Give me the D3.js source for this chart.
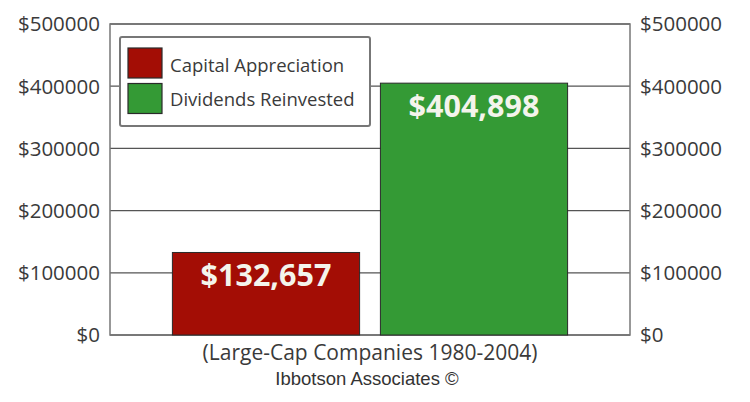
<!DOCTYPE html>
<html>
<head>
<meta charset="utf-8">
<script src="https://cdn.jsdelivr.net/npm/d3@7"></script>
<style>
  html, body { margin: 0; padding: 0; background: #fff; }
  svg { display: block; }
</style>
</head>
<body>
<div id="chart"></div>
<script>
const categories = ["Capital Appreciation", "Dividends Reinvested"];
const values = [132657, 404898];
const valueLabels = ["$132,657", "$404,898"];
const tickValues = [0, 100000, 200000, 300000, 400000, 500000];
const tickLabels = ["$0", "$100000", "$200000", "$300000", "$400000", "$500000"];
const colors = ["#a30d05", "#349a35"];
const subtitle = "(Large-Cap Companies 1980-2004)";
const credit = "Ibbotson Associates \u00A9";

const W = 750, H = 402;
const margin = { top: 24, right: 120, bottom: 67, left: 110 };
const svg = d3.select("#chart").append("svg").attr("width", W).attr("height", H);

const x = d3.scaleBand().domain(categories).range([margin.left, W - margin.right])
  .paddingInner(0.1).paddingOuter(0.3);
const y = d3.scaleLinear().domain([0, 500000]).range([H - margin.bottom, margin.top]);

const font = "'Open Sans', sans-serif";
const textColor = "#3a3a3a";

// gridlines
svg.append("g").selectAll("line").data(tickValues).join("line")
  .attr("x1", margin.left).attr("x2", W - margin.right)
  .attr("y1", d => y(d)).attr("y2", d => y(d))
  .attr("stroke", "#555").attr("stroke-width", 1.3);

// plot border
svg.append("rect")
  .attr("x", margin.left).attr("y", margin.top)
  .attr("width", W - margin.right - margin.left).attr("height", y(0) - margin.top)
  .attr("fill", "none").attr("stroke", "#777").attr("stroke-width", 1.5);

// axes
const fmt = d => tickLabels[tickValues.indexOf(d)];
const leftAxis = svg.append("g").attr("transform", `translate(${margin.left},0)`)
  .call(d3.axisLeft(y).tickValues(tickValues).tickFormat(fmt).tickSize(0).tickPadding(10));
const rightAxis = svg.append("g").attr("transform", `translate(${W - margin.right},0)`)
  .call(d3.axisRight(y).tickValues(tickValues).tickFormat(fmt).tickSize(0).tickPadding(10));
[leftAxis, rightAxis].forEach(a => {
  a.select(".domain").remove();
  a.selectAll("text").attr("font-family", font).attr("font-size", 20.5)
    .attr("fill", textColor).attr("dy", "0.34em");
});

// bars
svg.append("g").selectAll("rect").data(values).join("rect")
  .attr("x", (d, i) => x(categories[i]))
  .attr("y", d => y(d))
  .attr("width", x.bandwidth())
  .attr("height", d => y(0) - y(d))
  .attr("fill", (d, i) => colors[i])
  .attr("stroke", "#2a2a2a").attr("stroke-width", 1);

// value labels
svg.append("g").selectAll("text").data(values).join("text")
  .attr("x", (d, i) => x(categories[i]) + x.bandwidth() / 2)
  .attr("y", d => y(d) + 34)
  .attr("text-anchor", "middle")
  .attr("font-family", font).attr("font-weight", "bold").attr("font-size", 30.5)
  .attr("fill", "#f4f4ec")
  .text((d, i) => valueLabels[i]);

// legend
const lg = svg.append("g");
lg.append("rect").attr("x", 120).attr("y", 37).attr("width", 250).attr("height", 89)
  .attr("rx", 2).attr("fill", "#fff").attr("stroke", "#777").attr("stroke-width", 2);
categories.forEach((c, i) => {
  lg.append("rect").attr("x", 128).attr("y", 48 + i * 35.5).attr("width", 34).attr("height", 30)
    .attr("fill", colors[i]).attr("stroke", "#2a2a2a").attr("stroke-width", 1.2);
  lg.append("text").attr("x", 170).attr("y", 72 + i * 34)
    .attr("font-family", font).attr("font-size", 18.5).attr("fill", textColor).text(c);
});

// subtitle & credit
const cx = (margin.left + W - margin.right) / 2;
svg.append("text").attr("x", cx).attr("y", 360).attr("text-anchor", "middle")
  .attr("font-family", font).attr("font-size", 21).attr("fill", textColor).text(subtitle);
svg.append("text").attr("x", 367).attr("y", 385).attr("text-anchor", "middle")
  .attr("font-family", "'Liberation Sans', Arial, sans-serif").attr("font-size", 18.5)
  .attr("fill", "#333").text(credit);
</script>
</body>
</html>
